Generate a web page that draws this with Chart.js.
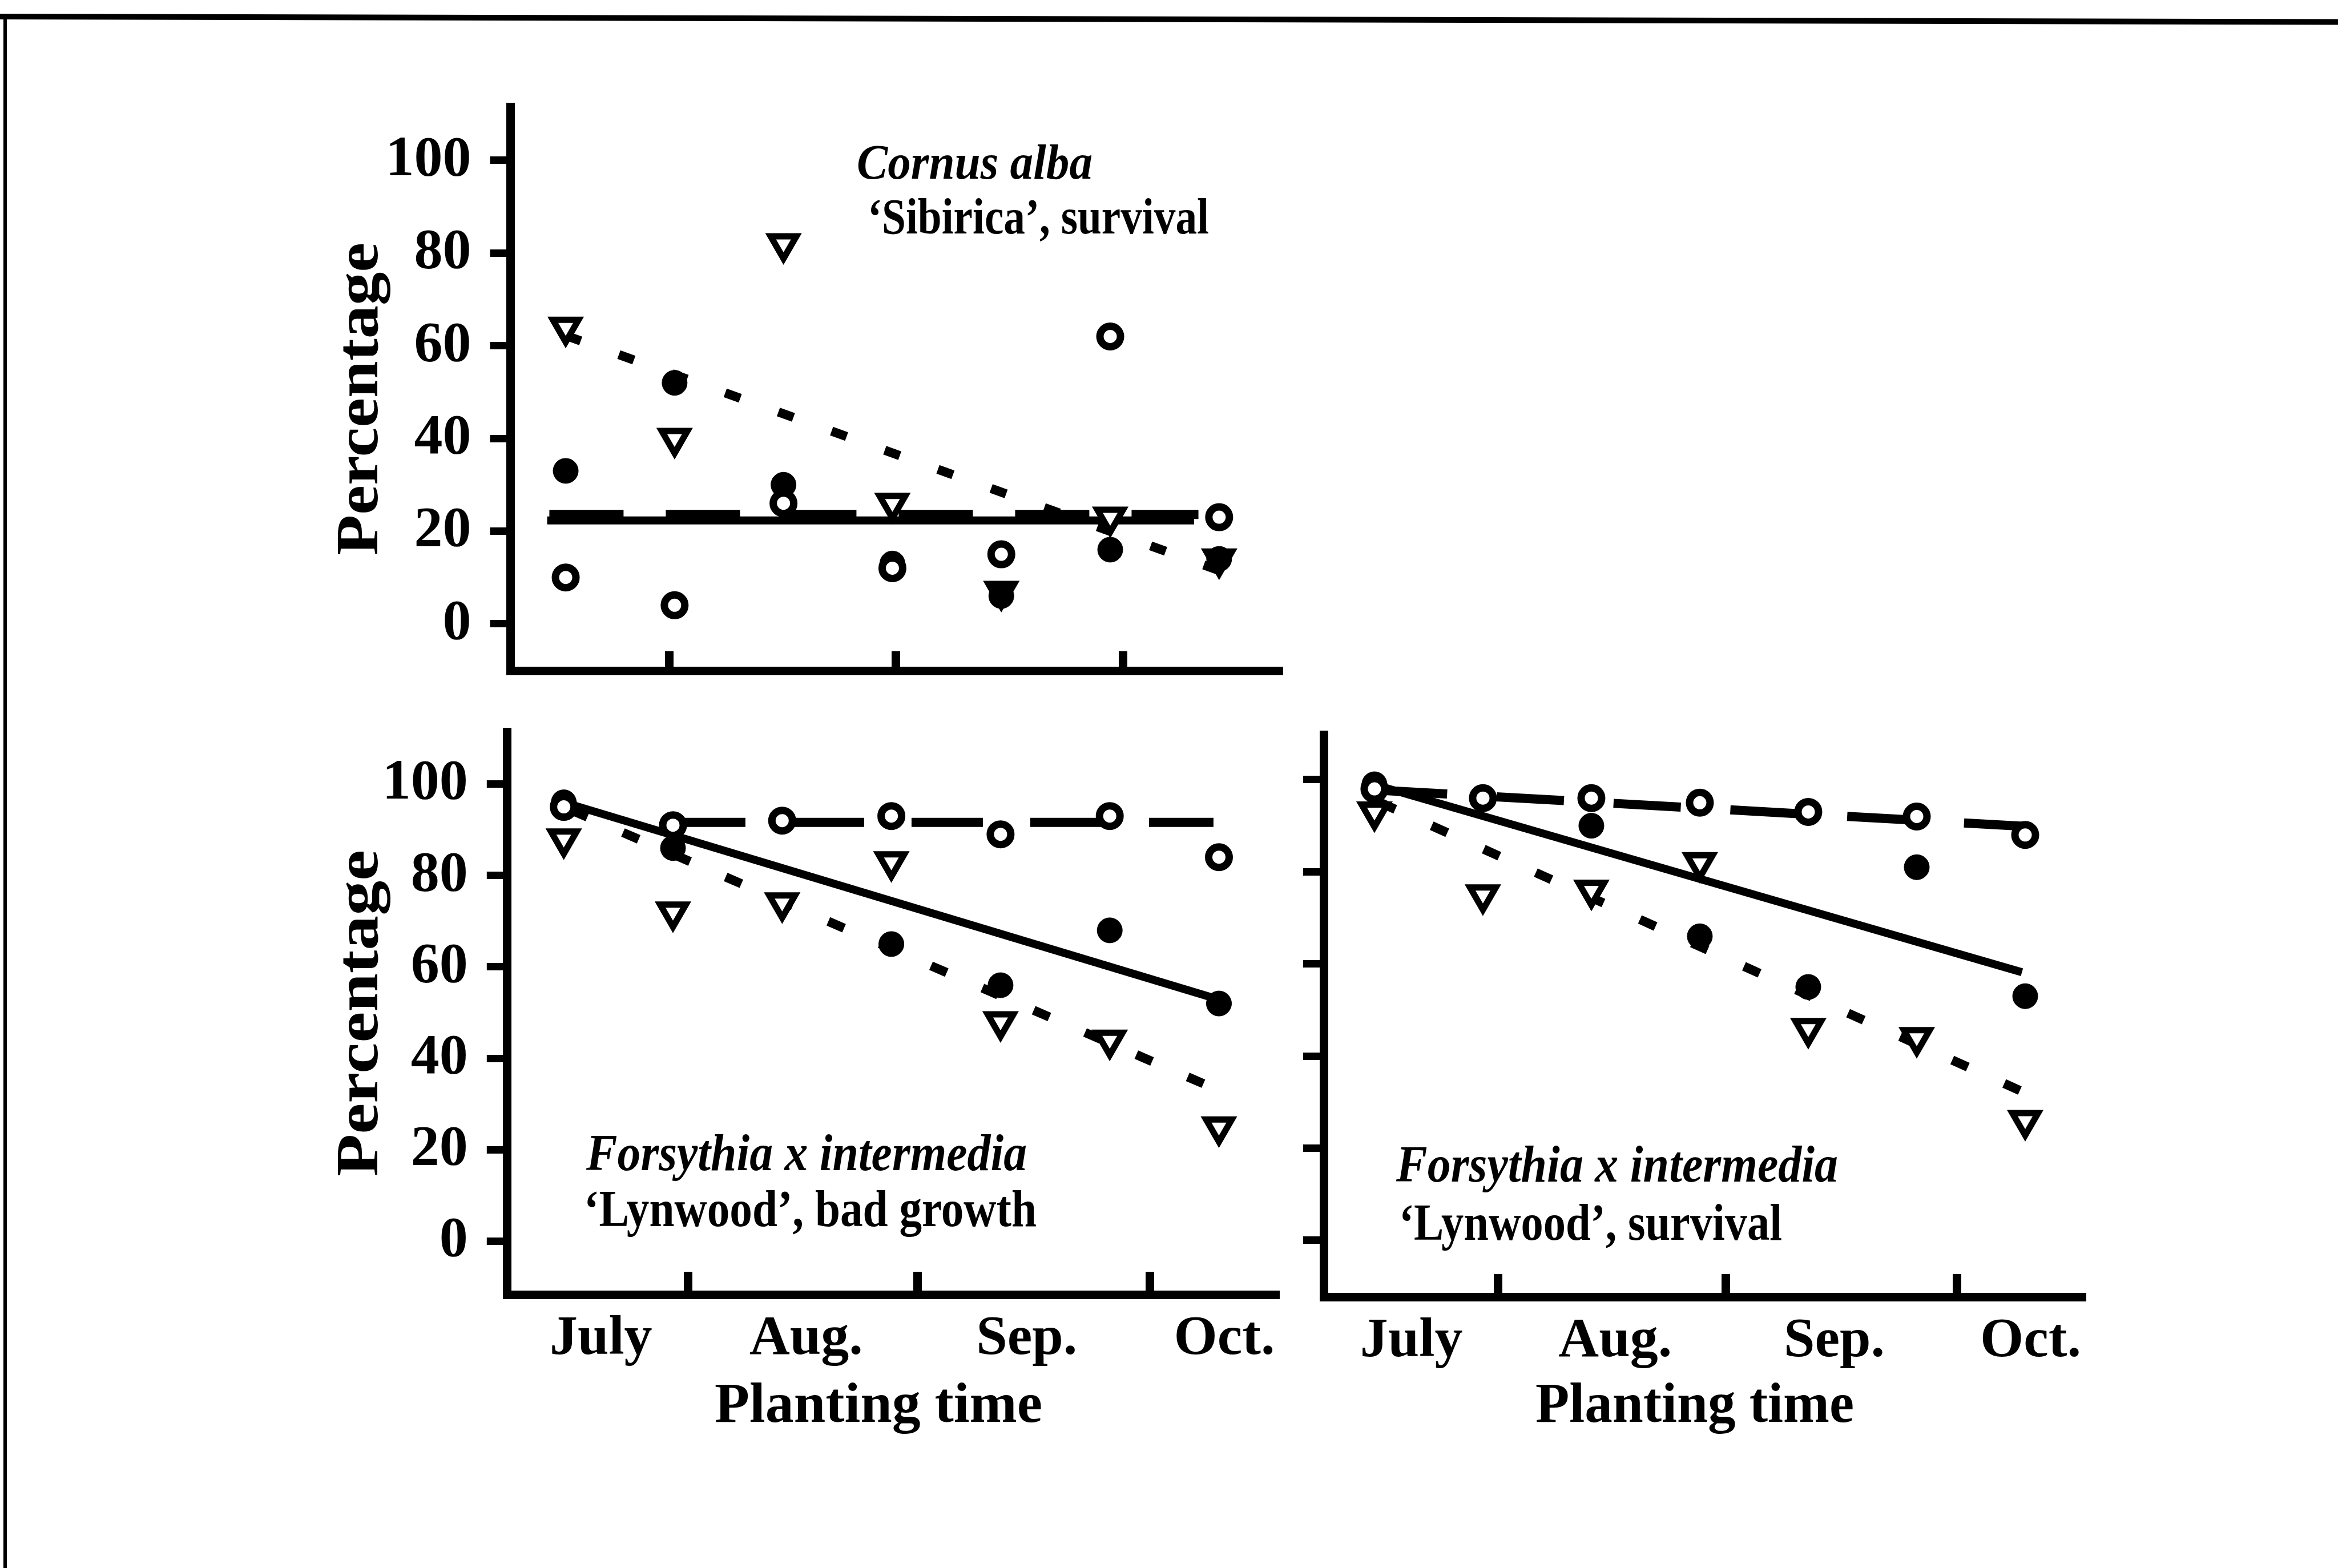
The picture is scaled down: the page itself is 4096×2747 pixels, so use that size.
<!DOCTYPE html>
<html>
<head>
<meta charset="utf-8">
<title>Planting time: survival and growth</title>
<script src="https://cdn.jsdelivr.net/npm/chart.js@4.4.1/dist/chart.umd.min.js"></script>
<style>
	html, body { margin: 0; padding: 0; background: #fff; }
	#page { position: relative; width: 4096px; height: 2747px; overflow: hidden; background: #fff; }
	#page canvas { position: absolute; left: 0; top: 0; }
</style>
</head>
<body>
<div id="page">
	<canvas id="cornus" width="4096" height="2747"></canvas>
	<canvas id="growth" width="4096" height="2747"></canvas>
	<canvas id="survival" width="4096" height="2747"></canvas>
</div>
<script>
;(function()
{
	'use strict';

	// planting dates in half-month steps: 0 = mid July ... 6 = mid October
	var plantingDates = [0, 1, 2, 3, 4, 5, 6];
	var percentTicks  = [0, 20, 40, 60, 80, 100];
	var monthLabels   = ['July', 'Aug.', 'Sep.', 'Oct.'];
	var monthLabelAt  = [0.34, 2.22, 4.24, 6.05];
	var monthTickAt   = [1.14, 3.24, 5.37];
	var cornusTickAt  = [0.95, 3.03, 5.12];

	// Cornus alba 'Sibirica', survival
	var cornusOpen     = [10, 4, 26, 12, 15, 62, 23];
	var cornusFilled   = [33, 52, 30, 13, 6, 16, 14];
	var cornusTriangle = [64, 40, 82, 26, 7, 23, 14];
	var cornusDashX  = [-0.15, 5.81], cornusDashY  = [23.6, 23.6];
	var cornusSolidX = [-0.17, 5.77], cornusSolidY = [22.3, 22.3];
	var cornusDotX   = [0, 6],        cornusDotY   = [62.2, 11.5];

	// Forsythia x intermedia 'Lynwood', bad growth
	var growthOpen     = [95, 91, 92, 93, 89, 93, 84];
	var growthFilled   = [96, 86, 92, 65, 56, 68, 52];
	var growthTriangle = [88, 72, 74, 83, 48, 44, 25];
	var growthDashX  = [1.01, 5.95], growthDashY  = [91.6, 91.6];
	var growthSolidX = [0, 6.05],    growthSolidY = [96, 52.5];
	var growthDotX   = [0, 6],       growthDotY   = [95, 33];

	// Forsythia x intermedia 'Lynwood', survival
	var survivalOpen     = [98, 96, 96, 95, 93, 92, 88];
	var survivalFilled   = [99, 96, 90, 66, 55, 81, 53];
	var survivalTriangle = [93, 75, 76, 82, 46, 44, 26];
	var survivalDashX  = [0.05, 6.05], survivalDashY  = [97.7, 89.8];
	var survivalSolidX = [-0.1, 5.97], survivalSolidY = [99.6, 58.2];
	var survivalDotX   = [0, 6],       survivalDotY   = [95.6, 32];

	var W = 4096, H = 2747;
	var AXIS_BOX = 400;   // room kept for tick labels (labels are clipped to their scale box)
	var serif = "'Liberation Serif', 'Times New Roman', serif";

	// plot frames in page pixels
	var frames = {
		cornus:   { left: 894.5, right: 2240, top: 187,    bottom: 1175, xMin: -0.506, xMax: 6.546, yMin: -10.12, yMax: 111.57 },
		growth:   { left: 888.8, right: 2234, top: 1282.8, bottom: 2268, xMin: -0.517, xMax: 6.515, yMin: -11.66, yMax: 111.33 },
		survival: { left: 2319,  right: 3647, top: 1287,   bottom: 2272, xMin: -0.468, xMax: 6.521, yMin: -12.28, yMax: 109.78 }
	};

	var openCircle   = { pointStyle: 'circle', pointRadius: 18, pointBorderWidth: 13, pointBackgroundColor: '#fff', pointBorderColor: '#000' };
	var filledCircle = { pointStyle: 'circle', pointRadius: 22, pointBorderWidth: 1, pointBackgroundColor: '#000', pointBorderColor: '#000' };
	var openTriangle = { pointStyle: 'triangle', pointRotation: 180, pointRadius: 26, pointBorderWidth: 11, pointBackgroundColor: '#fff', pointBorderColor: '#000' };

	var markers = function(values, style) {
		var set = {
			showLine: false,
			data: plantingDates.map(function(x, i) { return { x: x, y: values[i] }; })
		};
		return Object.assign(set, style);
	};

	var fitLine = function(xs, ys, style) {
		var set = {
			showLine: true, pointRadius: 0, borderColor: '#000', borderCapStyle: 'butt', fill: false,
			data: xs.map(function(x, i) { return { x: x, y: ys[i] }; })
		};
		return Object.assign(set, style);
	};

	var textPlugin = function(items) {
		return {
			id: 'panelText',
			afterDraw: function(chart) {
				var ctx = chart.ctx;
				items.forEach(function(t) {
					ctx.save();
					ctx.font = (t.italic ? 'italic ' : '') + 'bold ' + t.size + 'px ' + serif;
					ctx.fillStyle = '#000';
					ctx.textBaseline = 'alphabetic';
					ctx.textAlign = t.align || 'left';
					var sx = t.width / ctx.measureText(t.text).width;
					ctx.translate(t.x, t.y);
					if (t.rotate) ctx.rotate(-Math.PI / 2);
					ctx.scale(sx, 1);
					ctx.fillText(t.text, 0, 0);
					ctx.restore();
				});
			}
		};
	};

	// page frame of the scan: heavy rule on top, thin rule on the left
	var pageFrame = {
		id: 'pageFrame',
		beforeDraw: function(chart) {
			var ctx = chart.ctx;
			ctx.save();
			ctx.strokeStyle = '#000';
			ctx.lineWidth = 10;
			ctx.beginPath(); ctx.moveTo(0, 29); ctx.lineTo(W, 38.5); ctx.stroke();
			ctx.lineWidth = 6;
			ctx.beginPath(); ctx.moveTo(9, 30); ctx.lineTo(9, H); ctx.stroke();
			ctx.restore();
		}
	};

	var makePanel = function(id, f, cfg) {
		var bottomBox = cfg.months ? AXIS_BOX : 0;
		var scales = {
			x: {
				type: 'linear', position: 'bottom', min: f.xMin, max: f.xMax, weight: 0,
				afterFit: function(s) { s.height = 0; },
				afterBuildTicks: function(s) { s.ticks = cfg.tickAt.map(function(v) { return { value: v }; }); },
				ticks: { display: false },
				grid: { drawOnChartArea: false, drawTicks: true, tickLength: -cfg.xTickLen, tickWidth: 15, tickColor: '#000', lineWidth: 15, color: '#000' },
				border: { display: true, width: 15, color: '#000' }
			},
			y: {
				type: 'linear', position: 'left', min: f.yMin, max: f.yMax,
				afterFit: function(s) { s.width = AXIS_BOX; },
				afterBuildTicks: function(s) { s.ticks = percentTicks.map(function(v) { return { value: v }; }); },
				ticks: {
					display: cfg.yLabels, padding: 33, color: '#000', autoSkip: false,
					font: { family: serif, size: 100, weight: 'bold' },
					callback: function(v) { return String(v); }
				},
				grid: { drawOnChartArea: false, drawTicks: true, tickLength: 36, tickWidth: 13, tickColor: '#000', lineWidth: 13, color: '#000' },
				border: { display: true, width: 15, color: '#000' }
			}
		};
		if (cfg.months) {
			scales.months = {
				type: 'linear', position: 'bottom', min: f.xMin, max: f.xMax, weight: 1,
				afterFit: function(s) { s.height = AXIS_BOX; },
				afterBuildTicks: function(s) { s.ticks = monthLabelAt.map(function(v) { return { value: v }; }); },
				ticks: {
					padding: 20, color: '#000', autoSkip: false, maxRotation: 0, minRotation: 0,
					font: { family: serif, size: 98, weight: 'bold' },
					callback: function(v, i) { return monthLabels[i]; }
				},
				grid: { display: false, drawTicks: false },
				border: { display: false }
			};
		}

		return new Chart(document.getElementById(id), {
			type: 'scatter',
			data: { datasets: cfg.datasets },
			options: {
				responsive: false, animation: false, events: [], devicePixelRatio: 1,
				layout: { padding: { left: f.left - AXIS_BOX, top: f.top, right: W - f.right, bottom: H - f.bottom - bottomBox } },
				plugins: { legend: { display: false }, tooltip: { enabled: false } },
				scales: scales
			},
			plugins: [textPlugin(cfg.texts)].concat(cfg.extra || [])
		});
	};

	makePanel('cornus', frames.cornus, {
		tickAt: cornusTickAt, xTickLen: 34, yLabels: true, months: false,
		datasets: [
			markers(cornusOpen, openCircle),
			markers(cornusFilled, filledCircle),
			markers(cornusTriangle, openTriangle),
			fitLine(cornusDashX, cornusDashY, { borderWidth: 16, borderDash: [130, 74] }),
			fitLine(cornusSolidX, cornusSolidY, { borderWidth: 14 }),
			fitLine(cornusDotX, cornusDotY, { borderWidth: 16, borderDash: [28, 71] })
		],
		texts: [
			{ text: 'Percentage', x: 661, y: 699, width: 548, size: 105, rotate: true, align: 'center' },
			{ text: 'Cornus alba', x: 1501, y: 313, width: 413, size: 86, italic: true },
			{ text: '\u2018Sibirica\u2019, survival', x: 1520, y: 409, width: 598, size: 88 }
		],
		extra: [pageFrame]
	});

	makePanel('growth', frames.growth, {
		tickAt: monthTickAt, xTickLen: 40, yLabels: true, months: true,
		datasets: [
			markers(growthOpen, openCircle),
			markers(growthFilled, filledCircle),
			markers(growthTriangle, openTriangle),
			fitLine(growthDashX, growthDashY, { borderWidth: 16, borderDash: [125, 83] }),
			fitLine(growthSolidX, growthSolidY, { borderWidth: 14 }),
			fitLine(growthDotX, growthDotY, { borderWidth: 16, borderDash: [30, 68], borderDashOffset: -15 })
		],
		texts: [
			{ text: 'Percentage', x: 661, y: 1775, width: 572, size: 105, rotate: true, align: 'center' },
			{ text: 'Planting time', x: 1539, y: 2491, width: 574, size: 100, align: 'center' },
			{ text: 'Forsythia x intermedia', x: 1027, y: 2050, width: 772, size: 90, italic: true },
			{ text: '\u2018Lynwood\u2019, bad growth', x: 1023, y: 2148, width: 793, size: 90 }
		]
	});

	makePanel('survival', frames.survival, {
		tickAt: monthTickAt, xTickLen: 40, yLabels: false, months: true,
		datasets: [
			markers(survivalOpen, openCircle),
			markers(survivalFilled, filledCircle),
			markers(survivalTriangle, openTriangle),
			fitLine(survivalDashX, survivalDashY, { borderWidth: 16, borderDash: [118, 87] }),
			fitLine(survivalSolidX, survivalSolidY, { borderWidth: 14 }),
			fitLine(survivalDotX, survivalDotY, { borderWidth: 16, borderDash: [30, 70], borderDashOffset: -10 })
		],
		texts: [
			{ text: 'Planting time', x: 2969, y: 2491, width: 558, size: 100, align: 'center' },
			{ text: 'Forsythia x intermedia', x: 2446, y: 2070, width: 774, size: 90, italic: true },
			{ text: '\u2018Lynwood\u2019, survival', x: 2451, y: 2172, width: 671, size: 90 }
		]
	});

})();
</script>
</body>
</html>
